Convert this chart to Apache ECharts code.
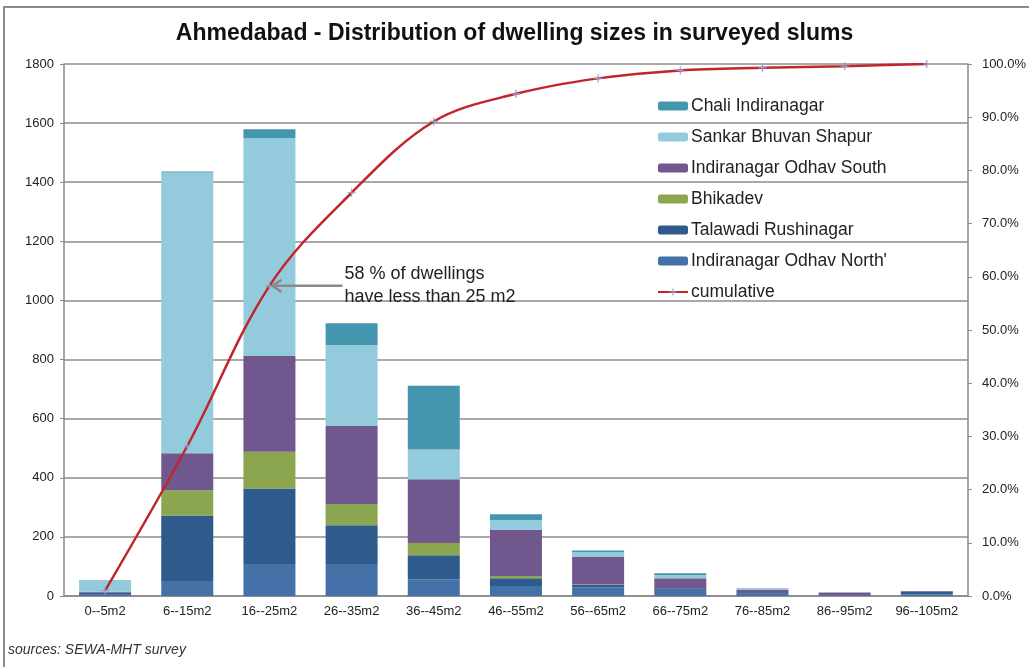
<!DOCTYPE html>
<html><head><meta charset="utf-8">
<script src="https://cdn.jsdelivr.net/npm/echarts@6/dist/echarts.min.js"></script>
<style>html,body{margin:0;padding:0;background:#fff}#c{width:1029px;height:667px}</style>
</head><body><div id="c"></div>
<script>
const categories = ['0--5m2','6--15m2','16--25m2','26--35m2','36--45m2','46--55m2','56--65m2','66--75m2','76--85m2','86--95m2','96--105m2'];
const odhavNorth   = [4, 51, 108, 108, 57, 34, 29, 24, 8, 2, 5];
const talawadi     = [8, 221, 256, 131, 81, 26, 8, 2, 2, 0, 10];
const bhikadev     = [0, 86, 124, 72, 41, 8, 2, 0, 0, 0, 0];
const odhavSouth   = [2, 125, 324, 264, 216, 156, 93, 34, 10, 10, 2];
const sankar       = [40, 950, 738, 274, 101, 33, 17, 11, 7, 0, 0];
const chali        = [0, 3, 29, 74, 215, 20, 5, 6, 0, 0, 0];
const cumulative   = [0.010, 0.282, 0.583, 0.758, 0.892, 0.944, 0.973, 0.988, 0.993, 0.996, 1.000];
const leftTicks = {min: 0, max: 1800, interval: 200};
const rightTicks = {min: 0, max: 1, interval: 0.1};

const font = 'Liberation Sans';
const chart = echarts.init(document.getElementById('c'), null, {renderer: 'canvas'});
const barDefs = [
  ["Indiranagar Odhav North'", odhavNorth, '#4472a8'],
  ['Talawadi Rushinagar', talawadi, '#2f5b8c'],
  ['Bhikadev', bhikadev, '#8ca650'],
  ['Indiranagar Odhav South', odhavSouth, '#70588f'],
  ['Sankar Bhuvan Shapur', sankar, '#93cbdc'],
  ['Chali Indiranagar', chali, '#4396ae']
];
const series = barDefs.map(d => ({
  name: d[0], type: 'bar', stack: 'total', data: d[1], barWidth: 52,
  itemStyle: {color: d[2]}, yAxisIndex: 0
}));
series.push({
  name: 'cumulative', type: 'line', data: cumulative, yAxisIndex: 1, smooth: 0.35,
  symbol: 'path://M0,3.4h8v1.2h-8z M3.4,0h1.2v8h-1.2z', symbolSize: 8,
  lineStyle: {color: '#c0262b', width: 2.5},
  itemStyle: {color: '#9a9ac8'}, z: 5
});
const option = {
  animation: false,
  textStyle: {fontFamily: font},
  title: {text: 'Ahmedabad - Distribution of dwelling sizes in surveyed slums', left: 'center', top: 17,
    textStyle: {fontFamily: font, fontSize: 23, fontWeight: 'bold', color: '#111'}},
  grid: {left: 64, right: 59, top: 64, bottom: 71},
  legend: {
    orient: 'vertical', left: 652, top: 91, itemWidth: 30, itemHeight: 9, itemGap: 11,
    data: ['Chali Indiranagar','Sankar Bhuvan Shapur','Indiranagar Odhav South','Bhikadev','Talawadi Rushinagar',"Indiranagar Odhav North'",'cumulative'],
    textStyle: {fontFamily: font, fontSize: 17.5, color: '#222', lineHeight: 20, padding: [0,0,0,-2]}
  },
  xAxis: {type: 'category', data: categories,
    axisLine: {lineStyle: {color: '#888', width: 1.5}},
    axisTick: {show: false},
    axisLabel: {fontFamily: font, fontSize: 13, color: '#222', margin: 9, interval: 0}},
  yAxis: [
    {type: 'value', min: leftTicks.min, max: leftTicks.max, interval: leftTicks.interval,
      axisLine: {show: true, lineStyle: {color: '#888', width: 1.5}},
      axisTick: {show: true, length: 4, lineStyle: {color: '#888'}},
      splitLine: {lineStyle: {color: '#8c8c8c', width: 1.5}},
      axisLabel: {fontFamily: font, fontSize: 13, color: '#222', margin: 10, formatter: v => String(v)}},
    {type: 'value', min: rightTicks.min, max: rightTicks.max, interval: rightTicks.interval, position: 'right',
      axisLine: {show: true, lineStyle: {color: '#888', width: 1.5}},
      axisTick: {show: true, length: 4, lineStyle: {color: '#888'}},
      splitLine: {show: false},
      axisLabel: {fontFamily: font, fontSize: 13, color: '#222', margin: 14,
        formatter: v => (v * 100).toFixed(1) + '%'}}
  ],
  series: series
};
chart.setOption(option);

const tip = chart.convertToPixel({xAxisIndex: 0, yAxisIndex: 1}, [2, cumulative[2]]);
chart.setOption({
  graphic: [
    {type: 'rect', shape: {x: 4, y: 7, width: 1040, height: 680}, style: {fill: 'none', stroke: '#8a8a8a', lineWidth: 2}, silent: true},
    {type: 'line', shape: {x1: tip[0] + 4, y1: tip[1], x2: tip[0] + 73, y2: tip[1]}, style: {stroke: '#8a8a8a', lineWidth: 2.5}, z: 10},
    {type: 'polyline', shape: {points: [[tip[0] + 12, tip[1] - 6], [tip[0] + 3, tip[1]], [tip[0] + 12, tip[1] + 6]]}, style: {stroke: '#8a8a8a', lineWidth: 2.5, fill: 'none'}, z: 10},
    {type: 'text', left: tip[0] + 75, top: tip[1] - 23, style: {text: '58 % of dwellings\nhave less than 25 m2', fontFamily: font, fontSize: 18, lineHeight: 23, fill: '#222'}, z: 10},
    {type: 'text', left: 8, top: 643, style: {text: 'sources: SEWA-MHT survey', fontFamily: font, fontSize: 14, fontStyle: 'italic', fill: '#333'}}
  ]
});
</script></body></html>
